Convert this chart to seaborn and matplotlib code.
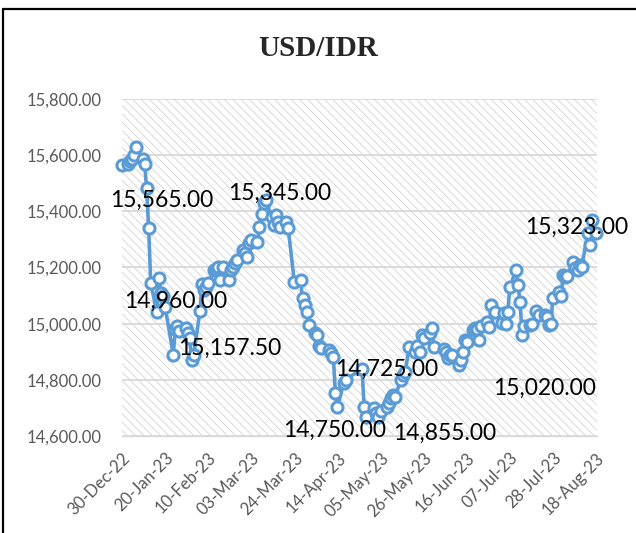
import matplotlib
matplotlib.use("Agg")
import matplotlib.pyplot as plt
import matplotlib.dates as mdates
from matplotlib.patches import Rectangle
from matplotlib.lines import Line2D
from matplotlib.ticker import FuncFormatter
import seaborn as sns
import pandas as pd

# ---------------- data ----------------
title = "USD/IDR"
dates = [
    "2022-12-30",
    "2023-01-02", "2023-01-03", "2023-01-04", "2023-01-05", "2023-01-06",
    "2023-01-09", "2023-01-10", "2023-01-11", "2023-01-12", "2023-01-13",
    "2023-01-16", "2023-01-17", "2023-01-18", "2023-01-19", "2023-01-20",
    "2023-01-24", "2023-01-25", "2023-01-26", "2023-01-27",
    "2023-01-30", "2023-01-31", "2023-02-01", "2023-02-02", "2023-02-03",
    "2023-02-06", "2023-02-07", "2023-02-08", "2023-02-09", "2023-02-10",
    "2023-02-13", "2023-02-14", "2023-02-15", "2023-02-16", "2023-02-17",
    "2023-02-20", "2023-02-21", "2023-02-22", "2023-02-23", "2023-02-24",
    "2023-02-27", "2023-02-28", "2023-03-01", "2023-03-02", "2023-03-03",
    "2023-03-06", "2023-03-07", "2023-03-08", "2023-03-09", "2023-03-10",
    "2023-03-13", "2023-03-14", "2023-03-15", "2023-03-16", "2023-03-17",
    "2023-03-20", "2023-03-21", "2023-03-24",
    "2023-03-27", "2023-03-28", "2023-03-29", "2023-03-30", "2023-03-31",
    "2023-04-03", "2023-04-04", "2023-04-05", "2023-04-06",
    "2023-04-10", "2023-04-11", "2023-04-12", "2023-04-13", "2023-04-14",
    "2023-04-17", "2023-04-18",
    "2023-04-26", "2023-04-27", "2023-04-28",
    "2023-05-02", "2023-05-03", "2023-05-04", "2023-05-05",
    "2023-05-08", "2023-05-09", "2023-05-10", "2023-05-11", "2023-05-12",
    "2023-05-15", "2023-05-16", "2023-05-17", "2023-05-19",
    "2023-05-22", "2023-05-23", "2023-05-24", "2023-05-25", "2023-05-26",
    "2023-05-29", "2023-05-30", "2023-05-31",
    "2023-06-05", "2023-06-06", "2023-06-07", "2023-06-08", "2023-06-09",
    "2023-06-12", "2023-06-13", "2023-06-14", "2023-06-15", "2023-06-16",
    "2023-06-19", "2023-06-20", "2023-06-21", "2023-06-22", "2023-06-23",
    "2023-06-26", "2023-06-27", "2023-06-28", "2023-06-30",
    "2023-07-03", "2023-07-04", "2023-07-05", "2023-07-06", "2023-07-07",
    "2023-07-10", "2023-07-11", "2023-07-12", "2023-07-13", "2023-07-14",
    "2023-07-17", "2023-07-18", "2023-07-20", "2023-07-21",
    "2023-07-24", "2023-07-25", "2023-07-26", "2023-07-27", "2023-07-28",
    "2023-07-31", "2023-08-01", "2023-08-02", "2023-08-03", "2023-08-04",
    "2023-08-07", "2023-08-08", "2023-08-09", "2023-08-10", "2023-08-11",
    "2023-08-14", "2023-08-15", "2023-08-16", "2023-08-18",
]
rates = [
    15565,
    15570, 15578, 15588, 15600, 15630,
    15585, 15570, 15483, 15340, 15145,
    15040, 15163, 15110, 15100, 15060,
    14890, 14980, 14990, 14975,
    14985, 14965, 14950, 14870, 14890,
    15045, 15140, 15120, 15130, 15145,
    15190, 15195, 15200, 15155, 15200,
    15155, 15190, 15200, 15215, 15227,
    15262, 15250, 15238, 15287, 15298,
    15290, 15344, 15390, 15430, 15440,
    15380, 15350, 15387, 15362, 15344,
    15362, 15340, 15148,
    15155, 15090, 15067, 15040, 14995,
    14967, 14960, 14920, 14914,
    14907, 14895, 14881, 14753, 14703,
    14789, 14800,
    14840, 14703, 14668,
    14700, 14682, 14668, 14690,
    14703, 14718, 14735, 14746, 14740,
    14800, 14817, 14828, 14917,
    14900, 14920, 14899, 14960, 14950,
    14967, 14985, 14917,
    14910, 14900, 14878, 14888, 14888,
    14853, 14870, 14899, 14942, 14935,
    14977, 14985, 14980, 14942, 14990,
    15006, 14988, 15066, 15040,
    15002, 15038, 15000, 15040, 15130,
    15190, 15138, 15077, 14960, 14990,
    14995, 15000, 15045, 15030,
    15030, 15024, 14995, 15000, 15091,
    15113, 15100, 15173, 15166, 15170,
    15220, 15198, 15190, 15209, 15200,
    15323, 15280, 15369, 15323,
]
# data labels shown on the chart (text, anchor date, anchor value)
label_texts = ["15,565.00", "14,960.00", "15,157.50", "15,345.00", "14,750.00",
               "14,725.00", "14,855.00", "15,020.00", "15,323.00"]
label_dates = ["2023-01-18 12:00", "2023-01-25", "2023-02-20 10:00", "2023-03-17",
               "2023-04-12 14:00", "2023-05-08", "2023-06-05 12:00",
               "2023-07-23 20:00", "2023-08-08 12:00"]
label_values = [15440, 15081, 14913, 15465, 14621, 14839, 14611, 14771, 15344]
y_ticks = [14600, 14800, 15000, 15200, 15400, 15600, 15800]
x_tick_start, x_tick_end = "2022-12-30", "2023-08-18"

# ---------------- style ----------------
sns.set_style("white")
plt.rcParams["font.family"] = ["Lato", "DejaVu Sans"]
plt.rcParams["hatch.linewidth"] = 0.6

BLUE = "#5B9BD5"
GRAY_TXT = "#595959"
GRID = "#D9D9D9"

fig = plt.figure(figsize=(6.36, 5.33), dpi=100)
ax = fig.add_axes([0.1918, 0.1820, 0.7469, 0.6323])
ax.set_facecolor("white")

df = pd.DataFrame({"date": pd.to_datetime(dates), "rate": rates})

# hatched plot background
bg = Rectangle((0, 0), 1, 1, transform=ax.transAxes, facecolor="white",
               edgecolor="#D3D3D3", linewidth=0, hatch="\\\\\\\\", zorder=0)
ax.add_patch(bg)

sns.lineplot(data=df, x="date", y="rate", ax=ax, color=BLUE, linewidth=2.6,
             marker="o", markersize=8, markerfacecolor="white",
             markeredgecolor=BLUE, markeredgewidth=2.2, zorder=3)
for ln in ax.lines:
    ln.set_clip_on(False)

ax.set_ylim(y_ticks[0], y_ticks[-1])
ax.set_xlim(pd.Timestamp("2022-12-30"), pd.Timestamp("2023-08-18") + pd.Timedelta(hours=12))
ax.set_yticks(y_ticks)
ax.yaxis.set_major_formatter(FuncFormatter(lambda v, p: f"{v:,.2f}"))
xt = pd.date_range(x_tick_start, x_tick_end, freq="21D")
ax.set_xticks(xt)
ax.xaxis.set_major_formatter(mdates.DateFormatter("%d-%b-%y"))

ax.grid(axis="y", color=GRID, linewidth=1.3, zorder=1)
ax.set_axisbelow(True)
for s in ["left", "right", "top"]:
    ax.spines[s].set_visible(False)
ax.spines["bottom"].set_color(GRID)
ax.spines["bottom"].set_linewidth(1.0)

ax.tick_params(axis="y", length=0, pad=15, labelsize=12, labelcolor=GRAY_TXT)
ax.tick_params(axis="x", length=4, width=1, color=GRID, direction="out",
               pad=6, labelsize=12, labelcolor=GRAY_TXT)
for lab in ax.get_xticklabels():
    lab.set_rotation(45)
    lab.set_ha("right")
    lab.set_rotation_mode("anchor")

ax.set_xlabel("")
ax.set_ylabel("")

for t, d, v in zip(label_texts, label_dates, label_values):
    ax.text(pd.Timestamp(d), v, t, ha="center", va="center", fontsize=16.5,
            color="black", zorder=5, clip_on=False)

fig.text(0.5, 1 - 48 / 533, title, ha="center", va="center",
         fontsize=21, fontweight="bold", family="Liberation Serif")

# outer chart border (left and top edges visible)
x0 = 3 / 636
y0 = 1 - 9 / 533
fig.add_artist(Line2D([x0, x0], [0, y0], transform=fig.transFigure, color="black", linewidth=1.6))
fig.add_artist(Line2D([x0, 1.0], [y0, y0], transform=fig.transFigure, color="black", linewidth=1.6))

fig.savefig("out.png", dpi=100, facecolor="white")
